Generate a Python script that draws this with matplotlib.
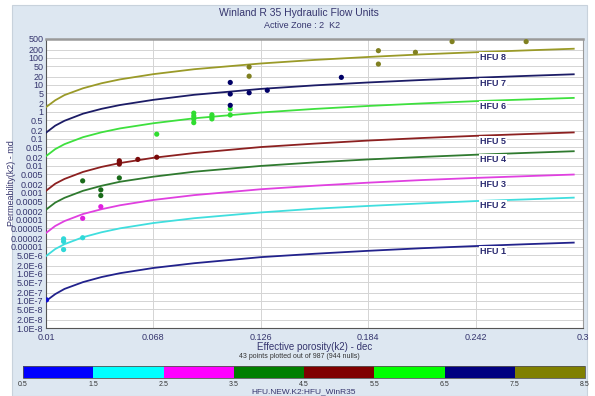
import numpy as np
import matplotlib
import matplotlib.pyplot as plt
from matplotlib.colors import ListedColormap, BoundaryNorm
from matplotlib.patches import Rectangle

plt.rcParams['font.family'] = ['Liberation Sans Narrow', 'Liberation Sans', 'DejaVu Sans']

# porosity stations where each HFU boundary curve was read
phi = [0.01, 0.015, 0.02, 0.03, 0.04, 0.05, 0.068, 0.09, 0.126, 0.155,
       0.184, 0.213, 0.242, 0.27, 0.295]

hfu1 = [1.0e-7, 1.8e-7, 2.8e-7, 5.0e-7, 7.7e-7, 1.07e-6, 1.67e-6, 2.5e-6, 4.2e-6,
        5.6e-6, 7.2e-6, 9.0e-6, 1.08e-5, 1.27e-5, 1.45e-5]
hfu2 = [4.6e-6, 8.4e-6, 1.27e-5, 2.3e-5, 3.5e-5, 4.9e-5, 7.7e-5, 1.16e-4, 1.9e-4,
        2.6e-4, 3.3e-4, 4.1e-4, 5.0e-4, 5.8e-4, 6.7e-4]
hfu3 = [3.3e-5, 6.0e-5, 9.1e-5, 1.66e-4, 2.5e-4, 3.5e-4, 5.5e-4, 8.3e-4, 1.37e-3,
        1.85e-3, 2.4e-3, 3.0e-3, 3.6e-3, 4.2e-3, 4.8e-3]
hfu4 = [2.4e-4, 4.4e-4, 6.6e-4, 1.2e-3, 1.84e-3, 2.6e-3, 4.0e-3, 6.1e-3, 1.0e-2,
        1.35e-2, 1.74e-2, 2.15e-2, 2.6e-2, 3.05e-2, 3.5e-2]
hfu5 = [1.2e-3, 2.2e-3, 3.3e-3, 6.0e-3, 9.2e-3, 1.28e-2, 2.0e-2, 3.0e-2, 5.0e-2,
        6.7e-2, 8.7e-2, 0.108, 0.13, 0.152, 0.174]
hfu6 = [0.023, 0.042, 0.064, 0.116, 0.176, 0.245, 0.38, 0.58, 0.95, 1.29, 1.66,
        2.06, 2.5, 2.9, 3.3]
hfu7 = [0.17, 0.31, 0.47, 0.86, 1.3, 1.8, 2.8, 4.3, 7.1, 9.6, 12.3, 15.2, 18.4,
        21.6, 24.7]
hfu8 = [1.5, 2.7, 4.2, 7.5, 11.5, 16, 25, 38, 62, 84, 108, 135, 162, 190, 218]

curve_names = ['HFU 1', 'HFU 2', 'HFU 3', 'HFU 4', 'HFU 5', 'HFU 6', 'HFU 7', 'HFU 8']
curve_colors = ['#22228c', '#40dede', '#e040e0', '#2f7a2f', '#8c2020', '#3ee03e',
                '#1c1c66', '#9a9a28']
label_k = [7e-6, 3.5e-4, 2.1e-3, 1.8e-2, 8.3e-2, 1.65, 11.7, 107]

# sample points: porosity, permeability, HFU class
pt_phi = [0.0103, 0.0195, 0.0195, 0.0195, 0.0298, 0.0298, 0.0396, 0.0298, 0.0396,
          0.0396, 0.0496, 0.0496, 0.0496, 0.0496, 0.0596, 0.0698, 0.0698,
          0.0898, 0.0898, 0.0898, 0.0898, 0.0996, 0.0996, 0.0996, 0.1095, 0.1095,
          0.1095, 0.1095, 0.1095, 0.1197, 0.1295, 0.1695,
          0.1197, 0.1197, 0.1895, 0.1895, 0.2095, 0.2293, 0.2693]
pt_k = [1.1e-7, 2.0e-5, 1.6e-5, 8.0e-6, 2.2e-5, 1.15e-4, 3.1e-4, 2.8e-3, 1.3e-3,
        8.0e-4, 3.6e-3, 1.55e-2, 1.35e-2, 1.17e-2, 1.74e-2, 2.1e-2, 0.15,
        0.9, 0.7, 0.55, 0.4, 0.78, 0.65, 0.55, 0.77, 1.3,
        12.3, 4.6, 1.75, 5.1, 6.3, 19,
        46, 21, 185, 59, 161, 400, 400]
pt_hfu = [1, 2, 2, 2, 2, 3, 3, 4, 4, 4, 4, 5, 5, 5, 5, 5, 6,
          6, 6, 6, 6, 6, 6, 6, 6, 6,
          7, 7, 7, 7, 7, 7,
          8, 8, 8, 8, 8, 8, 8]

y_ticks = [500, 200, 100, 50, 20, 10, 5, 2, 1, 0.5, 0.2, 0.1, 0.05, 0.02, 0.01,
           0.005, 0.002, 0.001, 0.0005, 0.0002, 0.0001, 0.00005, 0.00002, 0.00001,
           5e-6, 2e-6, 1e-6, 5e-7, 2e-7, 1e-7, 5e-8, 2e-8, 1e-8]
y_labels = ['500', '200', '100', '50', '20', '10', '5', '2', '1', '0.5', '0.2', '0.1',
            '0.05', '0.02', '0.01', '0.005', '0.002', '0.001', '0.0005', '0.0002',
            '0.0001', '0.00005', '0.00002', '0.00001', '5.0E-6', '2.0E-6', '1.0E-6',
            '5.0E-7', '2.0E-7', '1.0E-7', '5.0E-8', '2.0E-8', '1.0E-8']
x_ticks = [0.01, 0.068, 0.126, 0.184, 0.242, 0.3]
x_labels = ['0.01', '0.068', '0.126', '0.184', '0.242', '0.3']

bar_colors = ['#0000ff', '#00ffff', '#ff00ff', '#007f00', '#800000', '#00ff00',
              '#000080', '#808000']
bar_ticks = [0.5, 1.5, 2.5, 3.5, 4.5, 5.5, 6.5, 7.5, 8.5]
point_colors = ['#1010d0', '#30d8d8', '#e020e0', '#1a6b1a', '#7a0a0a', '#30dd30',
                '#000066', '#808020']

text_c = '#35356e'
panel_c = '#dde7f1'

fig = plt.figure(figsize=(5.95, 3.96), dpi=100, facecolor='white')
fig.patches.append(Rectangle((12 / 595, 0), 575 / 595, 1 - 5 / 396, transform=fig.transFigure,
                             facecolor=panel_c, edgecolor='#c8d2dc', lw=0.8, zorder=-10))

ax = fig.add_axes([46 / 595, 1 - 328 / 396, 537 / 595, 289 / 396])
ax.set_facecolor('white')
ax.set_yscale('log')
ax.set_xlim(0.01, 0.3)
ax.set_ylim(1e-8, 500)
ax.minorticks_off()
ax.set_yticks(y_ticks)
ax.set_yticklabels(y_labels)
ax.set_xticks(x_ticks)
ax.set_xticklabels(x_labels)
ax.tick_params(axis='both', length=0, labelsize=6.5, labelcolor=text_c, pad=2)
ax.tick_params(axis='x', pad=3.5)
ax.grid(True, color='#d4d4d4', lw=0.7)
ax.set_axisbelow(True)
for side in ['left', 'bottom']:
    ax.spines[side].set_color('#555555')
    ax.spines[side].set_linewidth(0.8)
ax.spines['top'].set_color('#9a9a9a')
ax.spines['top'].set_linewidth(1.8)
ax.spines['right'].set_color('#9a9a9a')
ax.spines['right'].set_linewidth(0.8)

curves = [hfu1, hfu2, hfu3, hfu4, hfu5, hfu6, hfu7, hfu8]
for vals, name, c, lk in zip(curves, curve_names, curve_colors, label_k):
    ax.plot(phi, vals, color=c, lw=1.3, zorder=3)
    ax.text(0.2445, lk, name, fontsize=6.5, fontweight='bold', color='#2a2a70',
            ha='left', va='center', zorder=4,
            bbox=dict(facecolor='white', edgecolor='none', pad=0.6))

ax.scatter(pt_phi, pt_k, c=[point_colors[h - 1] for h in pt_hfu], s=14,
           edgecolors='none', zorder=5)

# the axis title sits partly under the crowded tick labels
ax.set_ylabel('Permeability(k2) - md', fontsize=6.5, color=text_c)
ax.yaxis.set_label_coords(-0.056, 0.5)
ax.set_xlabel('Effective porosity(k2) - dec', fontsize=7, color=text_c, labelpad=0)

fig.text(0.503, 1 - 13 / 396, 'Winland R 35 Hydraulic Flow Units', fontsize=7.5,
         color=text_c, ha='center', va='center')
fig.text(0.507, 1 - 26 / 396, 'Active Zone : 2  K2', fontsize=6.5, color=text_c,
         ha='center', va='center')
fig.text(0.503, 1 - 357 / 396, '43 points plotted out of 987 (944 nulls)', fontsize=5,
         color='#333333', ha='center', va='center')

cax = fig.add_axes([23 / 595, 1 - 378 / 396, 562 / 595, 12 / 396])
cmap = ListedColormap(bar_colors)
norm = BoundaryNorm(bar_ticks, cmap.N)
cb = fig.colorbar(matplotlib.cm.ScalarMappable(norm=norm, cmap=cmap), cax=cax,
                  orientation='horizontal', ticks=bar_ticks)
cb.outline.set_edgecolor('#555555')
cb.outline.set_linewidth(0.6)
cax.set_xticklabels([str(t) for t in bar_ticks])
cax.tick_params(length=0, labelsize=5, labelcolor='#333333', pad=2)
cb.set_label('HFU.NEW.K2:HFU_WinR35', fontsize=6, color=text_c, labelpad=0)

fig.savefig('out.png', dpi=100)
